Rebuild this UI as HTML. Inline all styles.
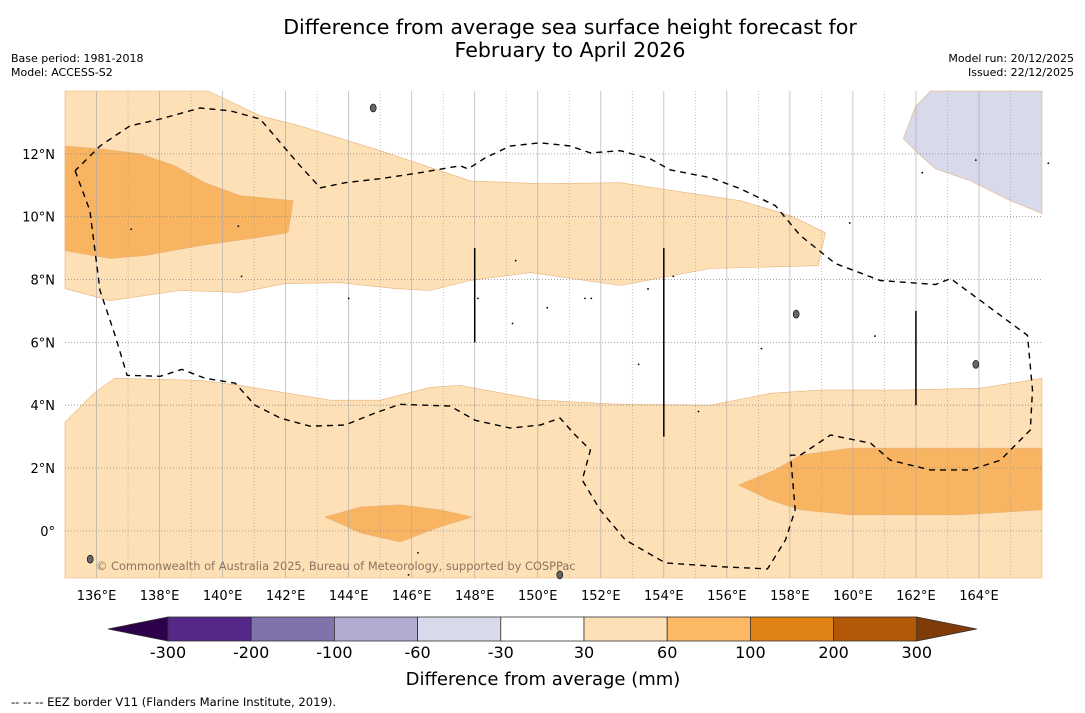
<!DOCTYPE html>
<html><head><meta charset="utf-8"><style>
body{margin:0;background:#fff;font-family:"DejaVu Sans","Liberation Sans",sans-serif;}
svg{display:block}
</style></head><body>
<svg id="c" width="1085" height="713" xmlns="http://www.w3.org/2000/svg" font-family="DejaVu Sans, Liberation Sans, sans-serif">
<rect width="1085" height="713" fill="#fff"/>
<text x="570" y="34" font-size="20.6" text-anchor="middle">Difference from average sea surface height forecast for</text>
<text x="570" y="57" font-size="20.6" text-anchor="middle">February to April 2026</text>
<text x="11" y="62" font-size="11">Base period: 1981-2018</text>
<text x="11" y="76" font-size="11">Model: ACCESS-S2</text>
<text x="1074" y="62" font-size="11" text-anchor="end">Model run: 20/12/2025</text>
<text x="1074" y="76" font-size="11" text-anchor="end">Issued: 22/12/2025</text>
<g id="map"></g>
<g id="cbar"></g>
<text x="543" y="685" font-size="18" text-anchor="middle">Difference from average (mm)</text>
<text x="11" y="706" font-size="11.6">--  --  -- EEZ border V11 (Flanders Marine Institute, 2019).</text>
</svg>
<script>
// ---- data ----
const lonTicks=[136,138,140,142,144,146,148,150,152,154,156,158,160,162,164];
const latTicks=[0,2,4,6,8,10,12];
const northLight=[[135,14],[139.54,14],[141.19,13.21],[142.46,12.89],[145,12.1],[147.86,11.14],[150.08,11.05],[152.62,11.08],[156.43,10.51],[158.02,10.03],[159.13,9.49],[158.9,8.44],[155.48,8.35],[152.62,7.81],[149.76,8.22],[147.86,7.97],[146.59,7.65],[145.48,7.71],[143.73,7.9],[141.98,7.87],[140.56,7.59],[138.65,7.65],[136.43,7.33],[135,7.71]];
const northDark=[[135,12.25],[136.11,12.16],[137.38,12],[138.49,11.62],[139.44,11.08],[140.56,10.67],[142.24,10.51],[142.08,9.49],[140.87,9.3],[139.29,9.08],[137.54,8.76],[136.43,8.67],[135,8.92]];
const southLight=[[135,3.46],[135.95,4.41],[136.59,4.86],[139.29,4.79],[140.56,4.63],[143.41,4.16],[145,4.16],[146.59,4.57],[147.54,4.63],[150.08,4.16],[152.62,4.03],[155.48,4],[157.38,4.38],[158.97,4.48],[161.51,4.48],[164.05,4.54],[166,4.86],[166,-1.5],[135,-1.5]];
const southDark=[[156.37,1.46],[157.54,1.94],[158.33,2.41],[159.92,2.63],[163.41,2.63],[166,2.63],[166,0.67],[163.41,0.51],[159.92,0.51],[158.33,0.67],[157.38,0.98]];
const blob=[[143.25,0.44],[144.37,0.76],[145.63,0.83],[146.9,0.67],[147.92,0.44],[146.9,0.13],[145.63,-0.35],[144.37,-0.06]];
const lavender=[[162.46,14],[166,14],[166,10.1],[165,10.51],[163.73,11.14],[162.62,11.52],[161.98,12.1],[161.6,12.48],[161.98,13.49]];
const eez=[[135.32,11.46],[135.79,10.19],[136.11,7.65],[136.59,6.22],[136.97,4.95],[138.02,4.92],[138.71,5.14],[139.44,4.86],[140.4,4.7],[141.03,4],[141.83,3.59],[142.78,3.33],[143.89,3.37],[144.84,3.75],[145.63,4.03],[147.22,3.97],[148.02,3.52],[149.13,3.27],[150.08,3.37],[150.71,3.59],[151.19,3.05],[151.67,2.57],[151.41,1.62],[151.98,0.67],[152.78,-0.29],[154.05,-1.02],[155.79,-1.14],[157.29,-1.21],[157.86,-0.29],[158.17,0.67],[158.02,2.41],[158.33,2.41],[159.29,3.05],[160.56,2.79],[161.19,2.25],[162.46,1.94],[163.73,1.94],[164.68,2.25],[165.63,3.21],[165.7,4.48],[165.54,6.22],[164.05,7.33],[163.1,8.03],[162.62,7.84],[160.87,7.97],[159.44,8.51],[158.33,9.4],[157.54,10.35],[156.43,10.89],[155.48,11.24],[154.21,11.49],[153.57,11.84],[152.62,12.1],[151.67,12.03],[151.03,12.25],[150.08,12.35],[149.13,12.25],[148.33,11.87],[147.79,11.52],[147.54,11.62],[146.27,11.4],[145,11.21],[143.89,11.08],[143.1,10.92],[142.46,11.62],[141.19,13.11],[140.24,13.37],[139.29,13.46],[138.02,13.11],[137.06,12.89],[136.11,12.25],[135.32,11.46]];
const markerLon=[148,154,162];
const markerTop=[9,9,7];
const markerBottom=[6,3,4];
const islandsBig=[[135.8,-0.9],[144.78,13.46],[158.2,6.9],[163.9,5.3],[150.7,-1.4]];
const islandsSmall=[[137.1,9.6],[153.5,7.7],[151.5,7.4],[151.7,7.4],[149.3,8.6],[148.1,7.4],[144,7.4],[146.2,-0.7],[145.9,-1.4],[150.3,7.1],[149.2,6.6],[154.3,8.1],[157.1,5.8],[160.7,6.2],[159.9,9.8],[163.9,11.8],[166.2,11.7],[162.2,11.4],[140.5,9.7],[140.6,8.1],[155.1,3.8],[153.2,5.3]];
const cbLevels=[-300,-200,-100,-60,-30,30,60,100,200,300];
const cbColors=["#542788","#8073ac","#b2abd2","#d8daeb","#ffffff","#fee0b6","#fdb863","#e08214","#b35806"];
// ---- scales ----
const X0=65,X1=1042,Y0=91,Y1=578,LON0=135,LON1=166,LAT0=-1.5,LAT1=14;
const xs=l=>X0+(l-LON0)/(LON1-LON0)*(X1-X0);
const ys=l=>Y1-(l-LAT0)/(LAT1-LAT0)*(Y1-Y0);
const NS="http://www.w3.org/2000/svg";
function mk(tag,attrs,parent){const e=document.createElementNS(NS,tag);for(const k in attrs)e.setAttribute(k,attrs[k]);parent.appendChild(e);return e;}
const map=document.getElementById('map');
const pts=a=>a.map(p=>xs(p[0]).toFixed(1)+','+ys(p[1]).toFixed(1)).join(' ');
mk('rect',{x:X0,y:Y0,width:X1-X0,height:Y1-Y0,fill:'#fff'},map);
const polys=[[northLight,'#fde0b5','north-positive-band'],[northDark,'#f9b462','north-high-anomaly'],[southLight,'#fde0b5','south-positive-band'],[southDark,'#f9b462','south-high-anomaly'],[blob,'#f9b462','equatorial-high-anomaly'],[lavender,'#d8d9ea','negative-anomaly-region']];
polys.forEach(p=>{const e=mk('polygon',{points:pts(p[0]),fill:p[1],stroke:'#e8b27a','stroke-width':0.6},map);

});
for(let lon=136;lon<=165;lon++){const even=lon%2===0;
const g=mk('line',{x1:xs(lon),x2:xs(lon),y1:Y0,y2:Y1,stroke:even?'#aaa':'#999','stroke-width':even?0.8:0.7,'stroke-dasharray':even?'none':'1,2',opacity:0.8},map);

}
latTicks.forEach(lat=>{const g=mk('line',{x1:X0,x2:X1,y1:ys(lat),y2:ys(lat),stroke:'#888','stroke-width':0.8,'stroke-dasharray':'1,2'},map);

});
islandsBig.forEach(p=>{const e=mk('ellipse',{cx:xs(p[0]),cy:ys(p[1]),rx:3,ry:4,fill:'#666',stroke:'#000','stroke-width':0.6},map);

});
islandsSmall.forEach(p=>{const e=mk('circle',{cx:xs(p[0]),cy:ys(p[1]),r:0.9,fill:'#000'},map);

});
const ez=mk('polyline',{points:pts(eez),fill:'none',stroke:'#000','stroke-width':1.4,'stroke-dasharray':'6,5'},map);


markerLon.forEach((l,i)=>{const e=mk('line',{x1:xs(l),x2:xs(l),y1:ys(markerTop[i]),y2:ys(markerBottom[i]),stroke:'#000','stroke-width':1.5},map);

});
const cr=mk('text',{x:96,y:570,'font-size':11.4,fill:'#8a7560'},map);cr.textContent='© Commonwealth of Australia 2025, Bureau of Meteorology, supported by COSPPac';


lonTicks.forEach(l=>{const t=mk('text',{x:xs(l),y:600,'font-size':13,'text-anchor':'middle'},map);t.textContent=l+'°E';

});
latTicks.forEach(l=>{const t=mk('text',{x:55,y:ys(l)+5,'font-size':13,'text-anchor':'end'},map);t.textContent=l===0?'0°':l+'°N';

});
const cb=document.getElementById('cbar');
const CB0=168,CBW=83.2,CY=617,CH=24;
const l1=mk('polygon',{points:`108,${CY+CH/2} ${CB0},${CY} ${CB0},${CY+CH}`,fill:'#2d004b',stroke:'#333','stroke-width':0.8},cb);


cbColors.forEach((c,i)=>{const r=mk('rect',{x:CB0+i*CBW,y:CY,width:CBW,height:CH,fill:c,stroke:'#333','stroke-width':0.8},cb);

});
const xe=CB0+cbColors.length*CBW;
const r1=mk('polygon',{points:`${xe},${CY} ${xe+60},${CY+CH/2} ${xe},${CY+CH}`,fill:'#7f3b08',stroke:'#333','stroke-width':0.8},cb);


cbLevels.forEach((v,i)=>{const t=mk('text',{x:CB0+i*CBW,y:658,'font-size':16,'text-anchor':'middle'},cb);t.textContent=v;

});
</script>
</body></html>
